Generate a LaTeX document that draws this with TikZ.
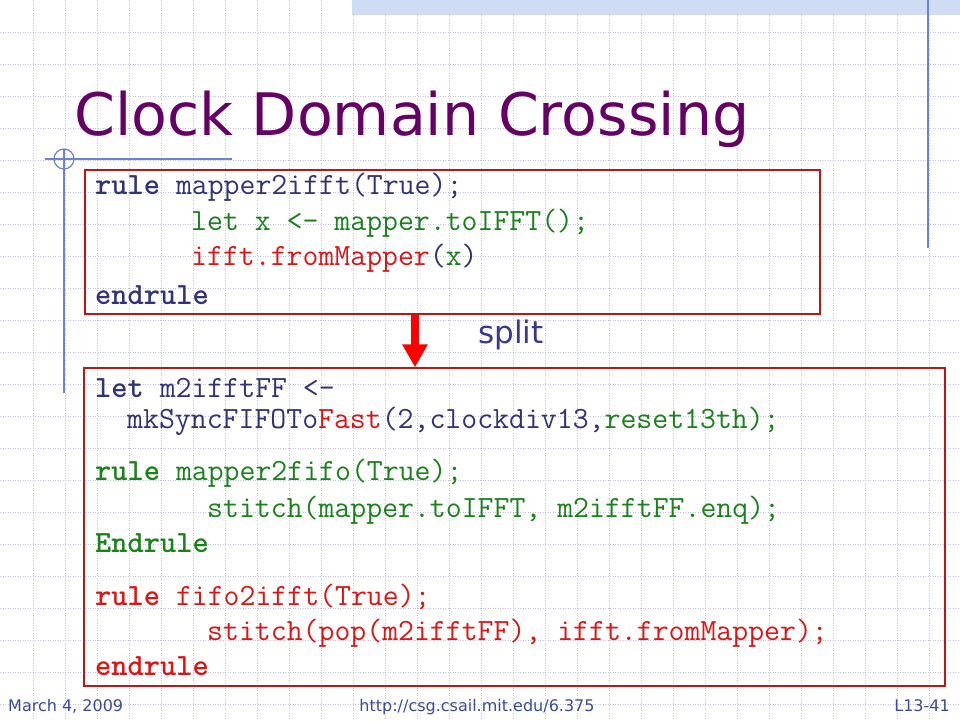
\documentclass[tikz,border=0pt]{standalone}
\usepackage{fontspec}
\setmainfont{DejaVu Sans}
\usetikzlibrary{arrows.meta}
\definecolor{navy}{RGB}{50,50,120}
\definecolor{cgreen}{RGB}{25,130,25}
\definecolor{cred}{RGB}{225,20,20}
\definecolor{boxred}{RGB}{195,20,20}
\definecolor{titlepurple}{RGB}{102,0,102}
\definecolor{splitblue}{RGB}{55,55,150}
\definecolor{footblue}{RGB}{60,75,150}
\definecolor{decoblue}{RGB}{110,130,210}
\definecolor{gridcol}{RGB}{195,195,232}
\definecolor{bandblue}{RGB}{208,220,244}
\tikzset{
  gridline/.style={gridcol, line width=0.8pt, dash pattern=on 1pt off 1.5pt},
  deco/.style={decoblue, line width=1.2pt},
  codebox/.style={draw=boxred, line width=1.3pt, rectangle, inner sep=0pt},
  codeline/.style={anchor=base west, inner sep=0pt, font=\ttfamily\fontsize{30.9}{34}\selectfont\frenchspacing},
  foot/.style={anchor=base, inner sep=0pt, text=footblue, font=\fontsize{16}{18}\selectfont},
}
\begin{document}
\begin{tikzpicture}[x=1pt,y=-1pt]
\useasboundingbox (0,0) rectangle (960,720);
\fill[white] (0,0) rectangle (960,720);
% grid
\foreach \i in {1,...,30} \draw[gridline] (\i*32+1,0) -- (\i*32+1,720);
\foreach \j in {1,...,22} \draw[gridline] (0,\j*32) -- (960,\j*32);
% top band
\fill[bandblue] (352,0) rectangle (960,15);
% decorative lines
\draw[deco] (928,0) -- (928,248);
\draw[deco] (45,159) -- (232,159);
\draw[deco] (64,149) -- (64,393);
\draw[deco] (64,159) circle (10);
% title
\node[anchor=base west, inner sep=0pt, text=titlepurple, font=\fontsize{58.6}{64}\selectfont] (title) at (74,135) {Clock Domain Crossing};
% boxes
\node[codebox, minimum width=735pt, minimum height=144pt] (box1) at (452.5,242) {};
\node[codebox, minimum width=861pt, minimum height=318pt] (box2) at (514.5,527) {};
% arrow
\draw[red, line width=8pt, -{Triangle[width=24pt,length=23pt]}] (box1.south -| 415,0) -- (box2.north -| 415,0);
\node[anchor=base west, inner sep=0pt, text=splitblue, font=\fontsize{31}{34}\selectfont] (split) at (478,343) {split};
% box 1 code
\node[codeline, text=navy] (l1) at (95,194) {\textbf{rule} mapper2ifft(True);};
\node[codeline, text=cgreen] (l2) at (191,230) {let x <- mapper.toIFFT();};
\node[codeline] (l3) at (191,265) {\textcolor{cred}{ifft.fromMapper}\textcolor{navy}{(}\textcolor{cgreen}{x}\textcolor{navy}{)}};
\node[codeline, text=navy] (l4) at (95,304) {\textbf{endrule}};
% box 2 code
\node[codeline, text=navy] (m1) at (95,397) {\textbf{let} m2ifftFF <-};
\node[codeline, text=navy] (m2) at (127,428) {mkSyncFIFOTo\textcolor{cred}{Fast}(2,clockdiv13,\textcolor{cgreen}{reset13th);}};
\node[codeline, text=cgreen] (m3) at (95,480) {\textbf{rule} mapper2fifo(True);};
\node[codeline, text=cgreen] (m4) at (207,517) {stitch(mapper.toIFFT, m2ifftFF.enq);};
\node[codeline, text=cgreen] (m5) at (95,552) {\textbf{Endrule}};
\node[codeline, text=cred] (m6) at (95,605) {\textbf{rule} fifo2ifft(True);};
\node[codeline, text=cred] (m7) at (207,640) {stitch(pop(m2ifftFF), ifft.fromMapper);};
\node[codeline, text=cred] (m8) at (95,675) {\textbf{endrule}};
% footer
\node[foot, anchor=base west] (date) at (8,711) {March 4, 2009};
\node[foot] (url) at (477,711) {http://csg.csail.mit.edu/6.375};
\node[foot, anchor=base east] (num) at (950,711) {L13-41};
\end{tikzpicture}
\end{document}
